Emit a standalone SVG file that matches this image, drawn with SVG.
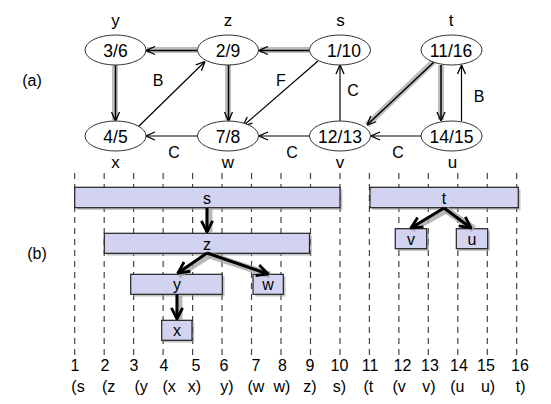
<svg xmlns="http://www.w3.org/2000/svg" width="551" height="404" viewBox="0 0 551 404">
<defs>
<style>
text{font-family:"Liberation Sans",Arial,sans-serif;fill:#000;}
.lbl{font-size:16px;text-anchor:middle;}
.in{font-size:17.5px;text-anchor:middle;}
.nm{font-size:17px;text-anchor:middle;}
.num{font-size:16px;text-anchor:middle;}
.node ellipse{fill:#fff;stroke:#333;stroke-width:1;}
.thin{stroke:#000;stroke-width:1.2;fill:none;marker-end:url(#open);}
.halo{stroke:#bdbdbd;stroke-width:6;fill:none;}
.thick{stroke:#000;stroke-width:1.5;fill:none;marker-end:url(#open);}
.dash{stroke:#444;stroke-width:1.2;stroke-dasharray:6,5;}
.bar rect{fill:#d2d3f0;stroke:#222;stroke-width:1.2;}
.bar rect.sh{fill:#999;stroke:none;opacity:0.6;}
.barrow{stroke:#000;stroke-width:3;fill:none;marker-end:url(#open2);}
.bhalo{stroke:#a8a8a8;stroke-width:7;fill:none;opacity:0.8;}
</style>
<marker id="open" viewBox="0 0 10 10" refX="10" refY="5" markerWidth="10" markerHeight="10" markerUnits="userSpaceOnUse" orient="auto">
<path d="M1,1 L10,5 L1,9" fill="none" stroke="#000" stroke-width="1.3"/>
</marker>
<marker id="open2" viewBox="0 0 10 10" refX="9" refY="5" markerWidth="14" markerHeight="14" markerUnits="userSpaceOnUse" orient="auto">
<path d="M1,1 L9,5 L1,9" fill="none" stroke="#000" stroke-width="2"/>
</marker>
</defs>
<rect width="551" height="404" fill="#fff"/>

<!-- section labels -->
<text class="lbl" x="32" y="86">(a)</text>
<text class="lbl" x="37" y="259">(b)</text>

<!-- connectors of graph (a) -->
<g id="connectors-a">
<line class="halo" x1="197" y1="50" x2="147" y2="50"/>
<line class="halo" x1="309" y1="50" x2="260" y2="50"/>
<line class="halo" x1="115" y1="65" x2="115" y2="120"/>
<line class="halo" x1="228" y1="65" x2="228" y2="120"/>
<line class="halo" x1="434" y1="61" x2="367" y2="125"/>
<line class="halo" x1="441" y1="65" x2="441" y2="120"/>
<line class="thick" x1="197" y1="50.5" x2="146" y2="50.5"/>
<line class="thick" x1="309" y1="50.5" x2="259" y2="50.5"/>
<line class="thick" x1="115.5" y1="65" x2="115.5" y2="121"/>
<line class="thick" x1="228.5" y1="65" x2="228.5" y2="121"/>
<line class="thick" x1="434" y1="62" x2="367" y2="125"/>
<line class="thick" x1="441" y1="65" x2="441" y2="121"/>
<line class="thin" x1="138" y1="127" x2="205" y2="61.5"/>
<line class="thin" x1="318" y1="61" x2="243" y2="126"/>
<line class="thin" x1="197" y1="136" x2="146" y2="136"/>
<line class="thin" x1="309" y1="136" x2="259" y2="136"/>
<line class="thin" x1="340" y1="121" x2="340" y2="65"/>
<line class="thin" x1="421" y1="136" x2="371" y2="136"/>
<line class="thin" x1="461.5" y1="121" x2="461.5" y2="65"/>
</g>
<g id="edge-labels">
<text class="lbl" x="158" y="86">B</text>
<text class="lbl" x="281" y="86">F</text>
<text class="lbl" x="353" y="96">C</text>
<text class="lbl" x="479" y="102">B</text>
<text class="lbl" x="174" y="158">C</text>
<text class="lbl" x="292" y="158">C</text>
<text class="lbl" x="398" y="158">C</text>
</g>

<!-- nodes (a) -->
<g id="node-y" class="node"><ellipse cx="115.5" cy="50" rx="30.5" ry="15"/><text class="in" x="115.5" y="56.5">3/6</text><text class="nm" x="115.5" y="26">y</text></g>
<g id="node-z" class="node"><ellipse cx="228" cy="50" rx="30.5" ry="15"/><text class="in" x="228" y="56.5">2/9</text><text class="nm" x="228" y="26">z</text></g>
<g id="node-s" class="node"><ellipse cx="340" cy="50" rx="30.5" ry="15"/><text class="in" x="344" y="56.5">1/10</text><text class="nm" x="340.5" y="26">s</text></g>
<g id="node-t" class="node"><ellipse cx="451.5" cy="50" rx="30.5" ry="15"/><text class="in" x="451" y="56.5">11/16</text><text class="nm" x="451" y="26">t</text></g>
<g id="node-x" class="node"><ellipse cx="115.5" cy="136" rx="30.5" ry="15"/><text class="in" x="115.5" y="142.5">4/5</text><text class="nm" x="115.5" y="168">x</text></g>
<g id="node-w" class="node"><ellipse cx="228" cy="136" rx="30.5" ry="15"/><text class="in" x="228" y="142.5">7/8</text><text class="nm" x="228" y="168">w</text></g>
<g id="node-v" class="node"><ellipse cx="340" cy="136" rx="30.5" ry="15"/><text class="in" x="340" y="142.5">12/13</text><text class="nm" x="340" y="168">v</text></g>
<g id="node-u" class="node"><ellipse cx="451.5" cy="136" rx="30.5" ry="15"/><text class="in" x="451.5" y="142.5">14/15</text><text class="nm" x="452.5" y="168">u</text></g>

<!-- (b) dashed time lines -->
<g id="timelines">
<line class="dash" x1="74.7" y1="173" x2="74.7" y2="356"/>
<line class="dash" x1="104.2" y1="173" x2="104.2" y2="356"/>
<line class="dash" x1="133.6" y1="173" x2="133.6" y2="356"/>
<line class="dash" x1="163.1" y1="173" x2="163.1" y2="356"/>
<line class="dash" x1="192.6" y1="173" x2="192.6" y2="356"/>
<line class="dash" x1="222" y1="173" x2="222" y2="356"/>
<line class="dash" x1="251.5" y1="173" x2="251.5" y2="356"/>
<line class="dash" x1="281" y1="173" x2="281" y2="356"/>
<line class="dash" x1="310.5" y1="173" x2="310.5" y2="356"/>
<line class="dash" x1="340" y1="173" x2="340" y2="356"/>
<line class="dash" x1="369.4" y1="173" x2="369.4" y2="356"/>
<line class="dash" x1="398.9" y1="173" x2="398.9" y2="356"/>
<line class="dash" x1="428.3" y1="173" x2="428.3" y2="356"/>
<line class="dash" x1="457.8" y1="173" x2="457.8" y2="356"/>
<line class="dash" x1="487.3" y1="173" x2="487.3" y2="356"/>
<line class="dash" x1="516.7" y1="173" x2="516.7" y2="356"/>
</g>

<!-- (b) bars -->
<g id="bar-s" class="bar"><rect class="sh" x="77" y="189.5" width="265.3" height="20.4"/><rect x="74.7" y="187.3" width="265.3" height="20.4"/><text class="lbl" x="207" y="204">s</text></g>
<g id="bar-z" class="bar"><rect class="sh" x="106.5" y="235.5" width="205.2" height="20"/><rect x="104.3" y="233.3" width="205.2" height="20"/><text class="lbl" x="207" y="250">z</text></g>
<g id="bar-y" class="bar"><rect class="sh" x="133" y="276.5" width="91.6" height="20"/><rect x="130.7" y="274.3" width="91.6" height="20"/><text class="lbl" x="177" y="290">y</text></g>
<g id="bar-w" class="bar"><rect class="sh" x="255.2" y="276.5" width="30.3" height="20"/><rect x="253" y="274.3" width="30.3" height="20"/><text class="lbl" x="268" y="290">w</text></g>
<g id="bar-x" class="bar"><rect class="sh" x="163.9" y="322.5" width="30.3" height="20"/><rect x="161.7" y="320.3" width="30.3" height="20"/><text class="lbl" x="177" y="336">x</text></g>
<g id="bar-t" class="bar"><rect class="sh" x="372.2" y="189.5" width="148.3" height="20.4"/><rect x="370" y="187.3" width="148.3" height="20.4"/><text class="lbl" x="444" y="204">t</text></g>
<g id="bar-v" class="bar"><rect class="sh" x="397.5" y="230.9" width="31.4" height="20"/><rect x="395.3" y="228.7" width="31.4" height="20"/><text class="lbl" x="411" y="245">v</text></g>
<g id="bar-u" class="bar"><rect class="sh" x="458.5" y="230.9" width="31.4" height="20"/><rect x="456.3" y="228.7" width="31.4" height="20"/><text class="lbl" x="472" y="245">u</text></g>

<!-- (b) tree arrows -->
<g id="connectors-b">
<line class="bhalo" x1="209" y1="209" x2="209" y2="233"/>
<line class="bhalo" x1="209" y1="255" x2="178" y2="275"/>
<line class="bhalo" x1="209" y1="255" x2="270" y2="275"/>
<line class="bhalo" x1="179" y1="296" x2="179" y2="320"/>
<line class="bhalo" x1="446" y1="210" x2="412" y2="229"/>
<line class="bhalo" x1="446" y1="210" x2="474" y2="229"/>
<line class="barrow" x1="207" y1="208" x2="207" y2="232"/>
<line class="barrow" x1="207" y1="253" x2="178" y2="273"/>
<line class="barrow" x1="207" y1="253" x2="268" y2="274"/>
<line class="barrow" x1="177" y1="294.5" x2="177" y2="319"/>
<line class="barrow" x1="444" y1="208" x2="411" y2="228"/>
<line class="barrow" x1="444" y1="208" x2="471" y2="228"/>
</g>

<!-- time axis -->
<g id="axis-numbers">
<text class="num" x="75" y="371">1</text>
<text class="num" x="105" y="371">2</text>
<text class="num" x="134" y="371">3</text>
<text class="num" x="164" y="371">4</text>
<text class="num" x="196" y="371">5</text>
<text class="num" x="224" y="371">6</text>
<text class="num" x="256" y="371">7</text>
<text class="num" x="282.5" y="371">8</text>
<text class="num" x="310" y="371">9</text>
<text class="num" x="339.5" y="371">10</text>
<text class="num" x="370" y="371">11</text>
<text class="num" x="402.5" y="371">12</text>
<text class="num" x="430" y="371">13</text>
<text class="num" x="459" y="371">14</text>
<text class="num" x="486" y="371">15</text>
<text class="num" x="520" y="371">16</text>
</g>
<g id="axis-events">
<text class="num" x="78" y="392">(s</text>
<text class="num" x="108.7" y="392">(z</text>
<text class="num" x="141.2" y="392">(y</text>
<text class="num" x="169.2" y="392">(x</text>
<text class="num" x="194.3" y="392">x)</text>
<text class="num" x="226.9" y="392">y)</text>
<text class="num" x="255.9" y="392">(w</text>
<text class="num" x="281.9" y="392">w)</text>
<text class="num" x="309.9" y="392">z)</text>
<text class="num" x="339.4" y="392">s)</text>
<text class="num" x="368.4" y="392">(t</text>
<text class="num" x="399.2" y="392">(v</text>
<text class="num" x="428.8" y="392">v)</text>
<text class="num" x="457.3" y="392">(u</text>
<text class="num" x="488" y="392">u)</text>
<text class="num" x="520.6" y="392">t)</text>
</g>
</svg>
